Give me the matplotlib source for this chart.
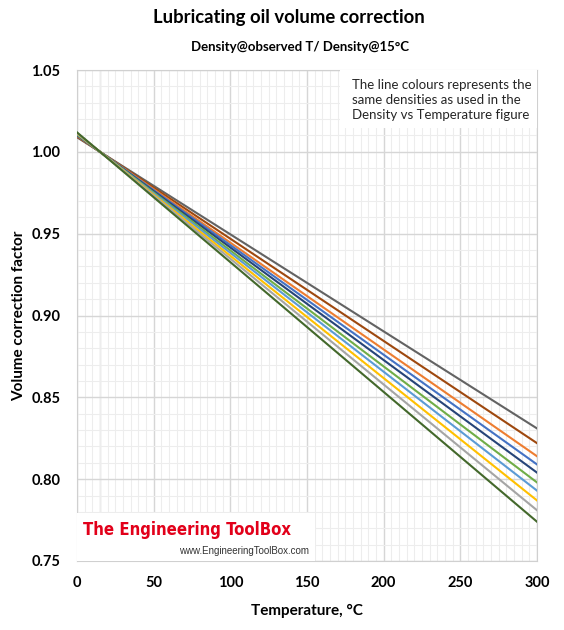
import matplotlib.pyplot as plt
from matplotlib.patches import Rectangle
from matplotlib.ticker import MultipleLocator

# region Data
temps = [0, 15, 300]

vcf_1 = [1.0089, 1.0, 0.831]
vcf_2 = [1.0094, 1.0, 0.822]
vcf_3 = [1.0098, 1.0, 0.814]
vcf_4 = [1.0101, 1.0, 0.809]
vcf_5 = [1.0103, 1.0, 0.804]
vcf_6 = [1.0106, 1.0, 0.798]
vcf_7 = [1.0109, 1.0, 0.793]
vcf_8 = [1.0112, 1.0, 0.787]
vcf_9 = [1.0115, 1.0, 0.781]
vcf_10 = [1.0119, 1.0, 0.774]

series = [vcf_1, vcf_2, vcf_3, vcf_4, vcf_5, vcf_6, vcf_7, vcf_8, vcf_9, vcf_10]
colors = ["#636363", "#9e480e", "#ed7d31", "#4472c4", "#264478",
          "#70ad47", "#5b9bd5", "#ffc000", "#a5a5a5", "#43682b"]

x_ticks = [0, 50, 100, 150, 200, 250, 300]
y_ticks = [0.75, 0.80, 0.85, 0.90, 0.95, 1.00, 1.05]
# endregion

plt.rcParams['font.family'] = ['Lato', 'DejaVu Sans']

fig = plt.figure(figsize=(5.64, 6.30), dpi=100)
ax = fig.add_axes([77 / 564, 1 - 561 / 630, 460 / 564, 491 / 630])

for vals, col in zip(series, colors):
    ax.plot(temps, vals, color=col, lw=1.5, zorder=3)

ax.set_xlim(0, 300)
ax.set_ylim(0.75, 1.05)
ax.set_xticks(x_ticks)
ax.set_yticks(y_ticks)
ax.set_yticklabels(["%.2f" % v for v in y_ticks])
ax.xaxis.set_minor_locator(MultipleLocator(5))
ax.yaxis.set_minor_locator(MultipleLocator(0.01))
ax.grid(which="major", color="#d6d6d6", lw=1.0, zorder=0)
ax.grid(which="minor", color="#ededed", lw=0.8, zorder=0)
ax.axvline(15, color="#d6d6d6", lw=1.0, zorder=1)
ax.tick_params(which="both", length=0)
ax.tick_params(axis="x", labelsize=10.5, pad=11)
ax.tick_params(axis="y", labelsize=10.5, pad=12)
for lab in ax.get_xticklabels() + ax.get_yticklabels():
    lab.set_fontweight("bold")
for s in ax.spines.values():
    s.set_color("#d0d0d0")

ax.set_xlabel("Temperature, °C", fontsize=11, fontweight="bold", labelpad=10)
ax.set_ylabel("Volume correction factor", fontsize=11, fontweight="bold", labelpad=4)

fig.text(0.512, 0.972, "Lubricating oil volume correction", ha="center", va="center",
         fontsize=13.3, fontweight="bold")
fig.text(0.532, 0.925, "Density@observed T/ Density@15°C", ha="center", va="center",
         fontsize=9.5, fontweight="bold")

# note box
ax.add_patch(Rectangle((0.572, 0.882), 0.428, 0.118, transform=ax.transAxes,
                       fc="white", ec="none", zorder=4))
ax.text(0.598, 0.982, "The line colours represents the\nsame densities as used in the\nDensity vs Temperature figure",
        transform=ax.transAxes, ha="left", va="top", fontsize=9.5, linespacing=1.3,
        color="#262626", zorder=5)

# logo
ax.add_patch(Rectangle((0.0, 0.0), 0.517, 0.098, transform=ax.transAxes,
                       fc="white", ec="none", zorder=4))
ax.text(0.013, 0.063, "The Engineering ToolBox", transform=ax.transAxes, ha="left", va="center",
        fontsize=12, fontweight="bold", color="#e2001a", fontstretch="extra-condensed",
        family=["Noto Sans ExtraCondensed", "Noto Sans Condensed", "Liberation Sans Narrow", "DejaVu Sans"],
        zorder=6)
ax.text(0.504, 0.021, "www.EngineeringToolBox.com", transform=ax.transAxes, ha="right", va="center",
        fontsize=7, color="#333333", family=["Liberation Sans", "DejaVu Sans"], zorder=6)

fig.savefig("out.png", dpi=100)
